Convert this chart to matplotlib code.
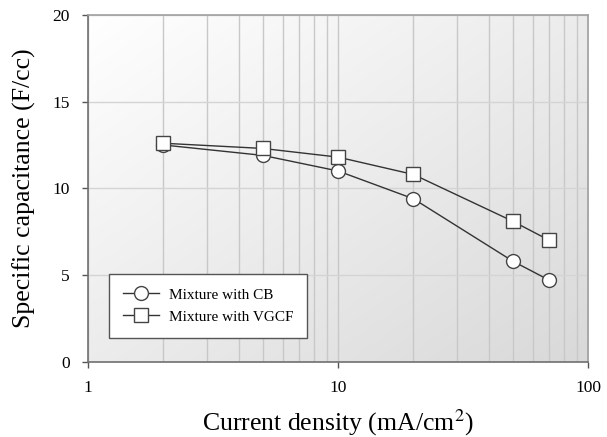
import matplotlib.pyplot as plt
import numpy as np

# current density (mA/cm2) and specific capacitance (F/cc)
current = [2, 5, 10, 20, 50, 70]
cap_cb = [12.5, 11.9, 11.0, 9.4, 5.8, 4.7]
cap_vgcf = [12.6, 12.3, 11.8, 10.8, 8.1, 7.0]
labels = ["Mixture with CB", "Mixture with VGCF"]

plt.rcParams['font.family'] = ['Liberation Serif', 'DejaVu Serif']
plt.rcParams['mathtext.fontset'] = 'stix'

fig = plt.figure(figsize=(6.07, 4.37), dpi=100)
ax = fig.add_axes([0.145, 0.172, 0.824, 0.794])

# light diagonal shading of the plot area (white top-left, grey bottom-right)
gx, gy = np.meshgrid(np.linspace(0, 1, 200), np.linspace(0, 1, 200))
shade = 1 - 0.15 * (gx + (1 - gy)) / 2
rgb = np.dstack([shade, shade, shade])
ax.imshow(rgb, extent=(0, 1, 0, 1), transform=ax.transAxes, origin="lower",
          aspect="auto", zorder=0, interpolation="bilinear")

ax.set_xscale("log")
ax.set_xlim(1, 100)
ax.set_ylim(0, 20)
ax.set_yticks([0, 5, 10, 15, 20])
ax.set_xticks([1, 10, 100])
ax.set_xticklabels(["1", "10", "100"])
ax.tick_params(axis="x", which="minor", length=0)
ax.tick_params(axis="both", which="major", direction="out", length=4,
               width=1, color="#555555", labelsize=12.5, pad=9)

ax.grid(True, which="both", axis="x", color="#c8c8c8", linewidth=1, zorder=1)
ax.grid(True, which="major", axis="y", color="#d4d4d4", linewidth=1, zorder=1)
ax.set_axisbelow(True)

for side in ["top", "right"]:
    ax.spines[side].set_color("#a0a0a0")
for side in ["left", "bottom"]:
    ax.spines[side].set_color("#707070")
for sp in ax.spines.values():
    sp.set_linewidth(1.2)

ax.plot(current, cap_cb, "-o", color="#333333", lw=1, ms=10,
        mfc="white", mec="#444444", mew=1, label=labels[0], zorder=3)
ax.plot(current, cap_vgcf, "-s", color="#333333", lw=1, ms=10,
        mfc="white", mec="#444444", mew=1, label=labels[1], zorder=4)

leg = ax.legend(loc="lower left", bbox_to_anchor=(0.042, 0.07), fontsize=11,
                frameon=True, fancybox=False, edgecolor="#555555",
                framealpha=1, borderpad=0.9, handlelength=2.4,
                handletextpad=0.6, labelspacing=0.55, borderaxespad=0)
leg.get_frame().set_linewidth(1)

ax.set_xlabel("Current density (mA/cm$^2$)", fontsize=18.5, labelpad=8)
ax.set_ylabel("Specific capacitance (F/cc)", fontsize=18.5, labelpad=12)

fig.savefig("out.png", dpi=100)
